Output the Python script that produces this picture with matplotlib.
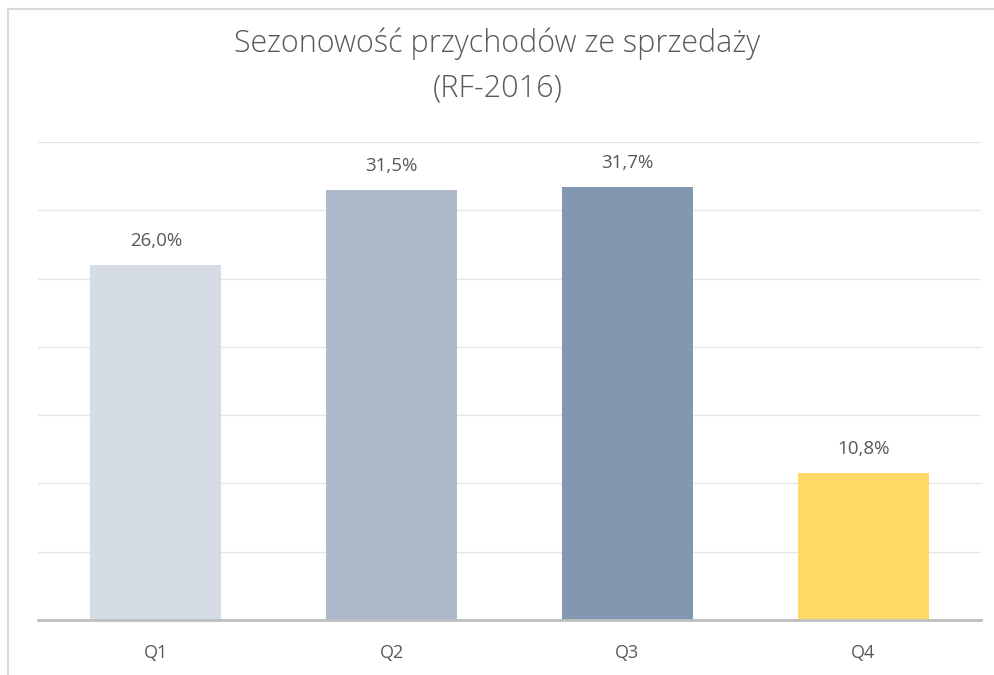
import matplotlib
matplotlib.use('agg')
import matplotlib.pyplot as plt
from matplotlib.patches import Rectangle

quarters = ['Q1', 'Q2', 'Q3', 'Q4']
shares = [26.0, 31.5, 31.7, 10.8]
bar_colors = ['#D6DCE5', '#ADB9CA', '#8497B0', '#FFD966']
title = 'Sezonowość przychodów ze sprzedaży\n(RF-2016)'

plt.rcParams['font.family'] = ['Open Sans', 'DejaVu Sans']
text_color = '#595959'

fig = plt.figure(figsize=(9.95, 6.75), dpi=100)
W, H = 995, 675

# chart border
fig.patches.append(Rectangle((8 / W, -0.1), 1.2, (H - 9) / H + 0.1,
                             transform=fig.transFigure, fill=False,
                             edgecolor='#D9D9D9', linewidth=1.5))

ax = fig.add_axes([38 / W, (H - 620) / H, (981 - 38) / W, (620 - 142) / H])
x = range(len(quarters))
ax.bar(x, shares, width=0.556, color=bar_colors, zorder=2)

ax.set_xlim(-0.5, 3.5)
ax.set_ylim(0, 35)
ax.set_yticks(range(0, 36, 5))
ax.yaxis.grid(True, color='#E6E6E6', linewidth=1.0, zorder=0)
ax.tick_params(axis='y', left=False, labelleft=False)
ax.tick_params(axis='x', bottom=False, labelsize=13, colors=text_color, pad=14)
ax.set_xticks(list(x))
ax.set_xticklabels(quarters)

for side in ['top', 'right', 'left']:
    ax.spines[side].set_visible(False)
ax.spines['bottom'].set_color('#BFBFBF')
ax.spines['bottom'].set_linewidth(2)
ax.spines['bottom'].set_zorder(3)

for i, v in enumerate(shares):
    ax.annotate('{:.1f}%'.format(v).replace('.', ','), (i, v),
                xytext=(0, 17), textcoords='offset points',
                ha='center', va='center', fontsize=13.5, color=text_color)

fig.text(0.5, (H - 66) / H, title, ha='center', va='center',
         fontsize=22, color=text_color, fontweight='light', linespacing=1.5)

fig.savefig('out.png', dpi=100)
